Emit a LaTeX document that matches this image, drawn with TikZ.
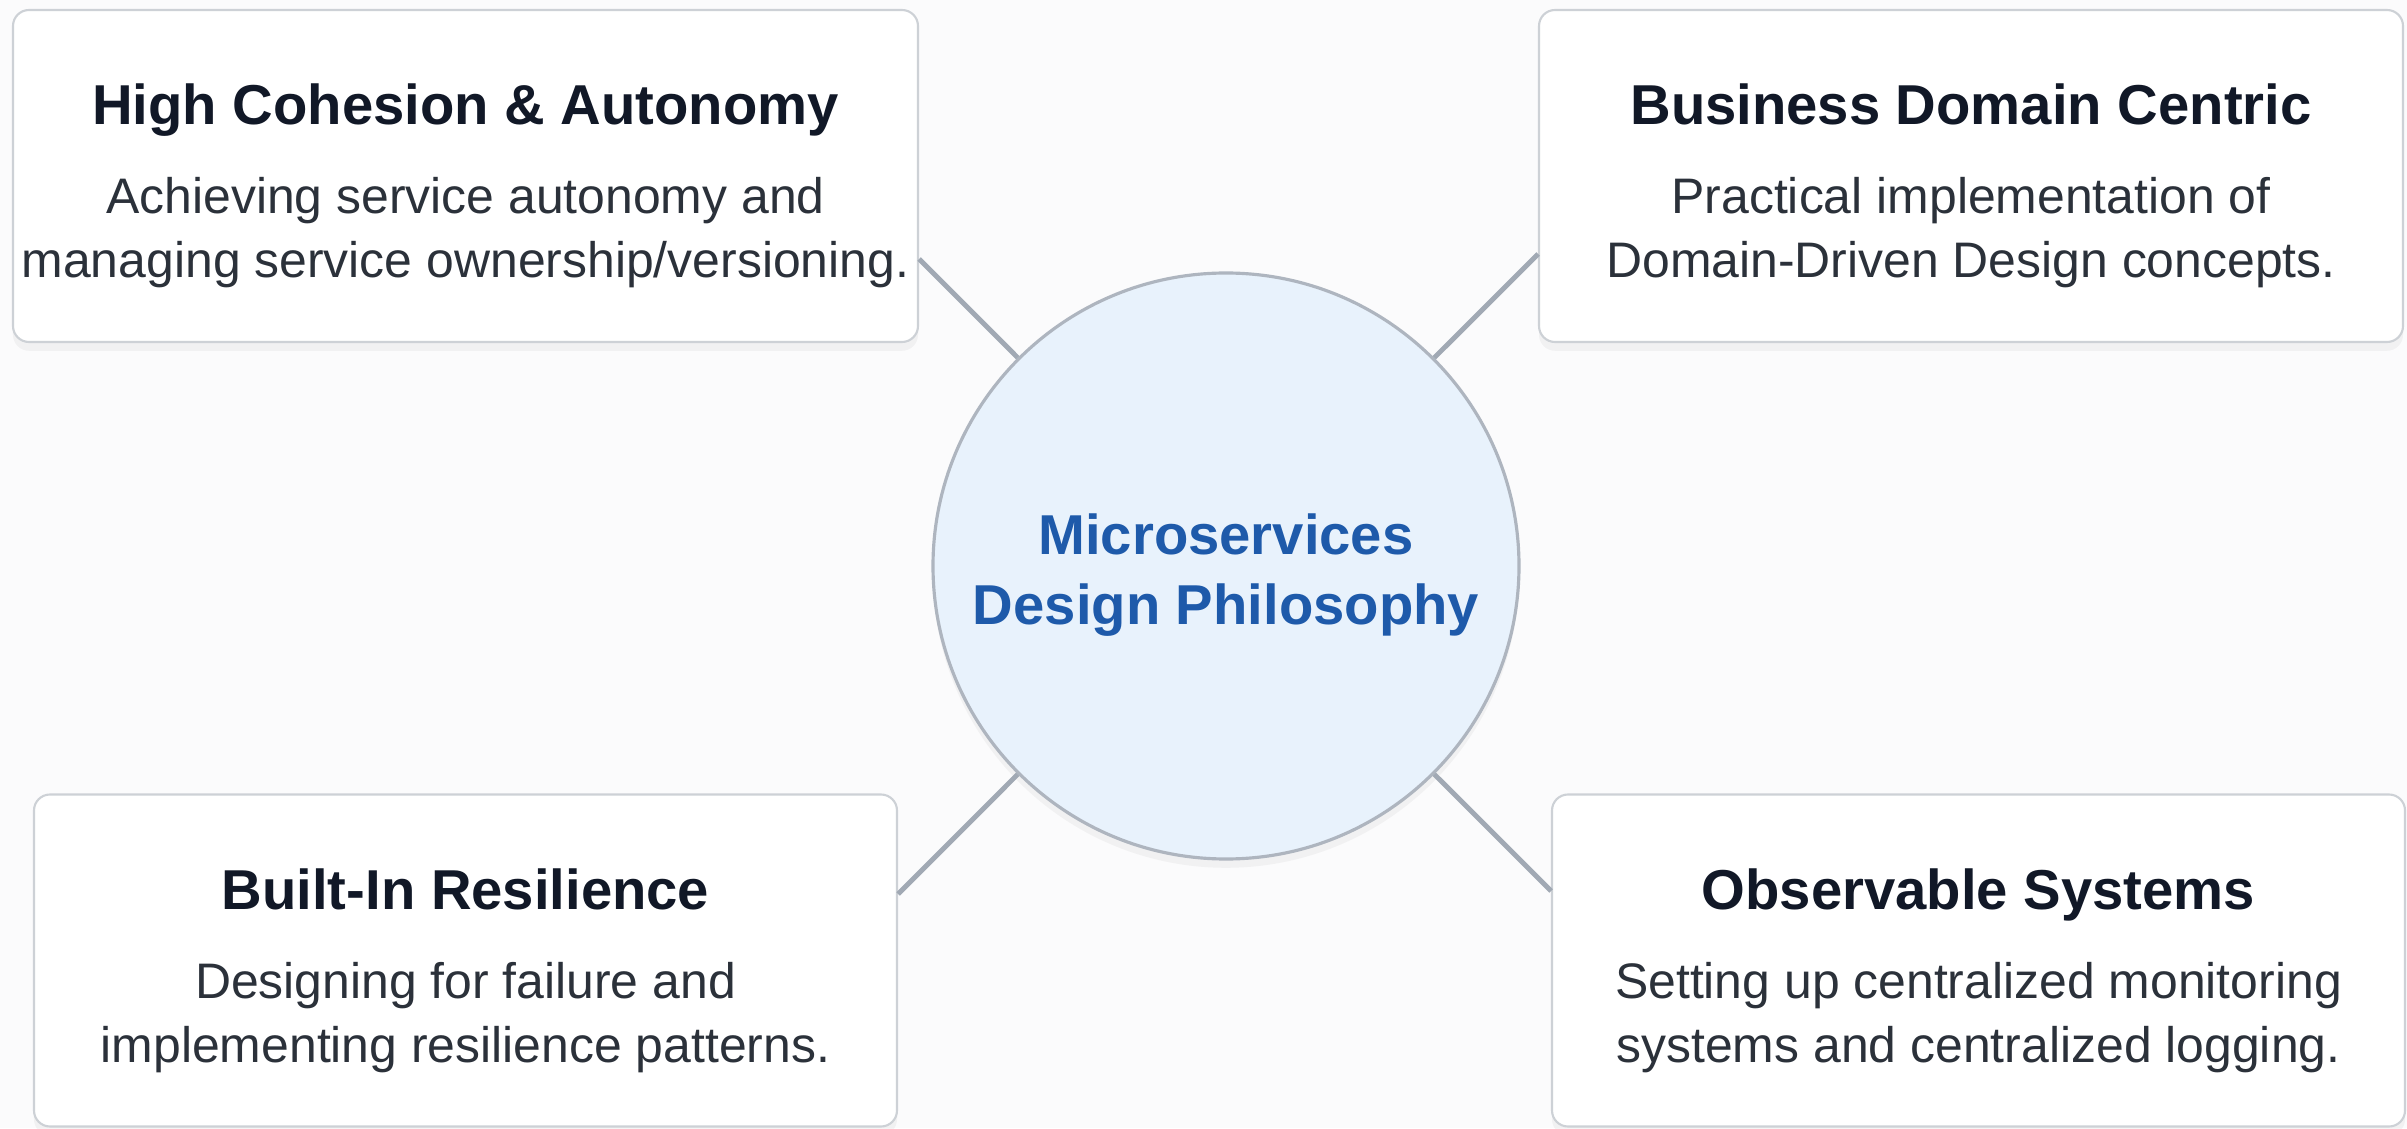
\documentclass[tikz,border=0pt]{standalone}
\usepackage{fontspec}
\setmainfont{Liberation Sans}
\usetikzlibrary{shadows}

\definecolor{pagebg}{HTML}{FBFBFC}
\definecolor{cardline}{HTML}{CDD1D6}
\definecolor{titleink}{HTML}{111827}
\definecolor{bodyink}{HTML}{2B313A}
\definecolor{hubfill}{HTML}{E8F2FC}
\definecolor{hubline}{HTML}{AEB5BF}
\definecolor{hubink}{HTML}{1E5AAA}
\definecolor{spokecol}{HTML}{A1A9B4}

\tikzset{
    card/.style={draw=cardline, fill=white, line width=0.6pt, rounded corners=1.6mm,
        minimum height=3.32cm, inner sep=0pt,
        drop shadow={shadow xshift=0pt, shadow yshift=-2.5pt, opacity=0.08}},
    cardtitle/.style={anchor=base, font=\fontsize{16}{19}\selectfont\bfseries, text=titleink},
    cardtext/.style={anchor=base, align=center, font=\fontsize{14.2}{18.2}\selectfont, text=bodyink},
    hub/.style={circle, draw=hubline, fill=hubfill, line width=0.9pt, minimum size=5.86cm,
        inner sep=0pt, drop shadow={shadow xshift=0pt, shadow yshift=-2.5pt, opacity=0.08}},
    hublabel/.style={align=center, font=\fontsize{16}{19.8}\selectfont\bfseries, text=hubink},
    spoke/.style={draw=spokecol, line width=1.4pt},
}

\begin{document}
\begin{tikzpicture}
    \useasboundingbox (0,0) rectangle (24.07,11.28);
    \fill[pagebg] (0,0) rectangle (24.07,11.28);

    % Central idea
    \node[hub] (hub) at (12.26, 5.62) {};
    \node[hublabel] (hub-label) at ([yshift=-0.09cm]hub.center) {Microservices\\Design Philosophy};

    % Principle cards
    \node[card, minimum width=9.05cm] (cohesion) at (4.655, 9.52) {};
    \node[cardtitle] (cohesion-title) at ([yshift=-1.16cm]cohesion.north) {High Cohesion \& Autonomy};
    \node[cardtext] (cohesion-text) at ([yshift=-2.69cm]cohesion.north) {Achieving service autonomy and\\managing service ownership/versioning.};

    \node[card, minimum width=8.64cm] (domain) at (19.71, 9.52) {};
    \node[cardtitle] (domain-title) at ([yshift=-1.16cm]domain.north) {Business Domain Centric};
    \node[cardtext] (domain-text) at ([yshift=-2.69cm]domain.north) {Practical implementation of\\Domain-Driven Design concepts.};

    \node[card, minimum width=8.63cm] (resilience) at (4.655, 1.675) {};
    \node[cardtitle] (resilience-title) at ([yshift=-1.16cm]resilience.north) {Built-In Resilience};
    \node[cardtext] (resilience-text) at ([yshift=-2.69cm]resilience.north) {Designing for failure and\\implementing resilience patterns.};

    \node[card, minimum width=8.53cm] (observe) at (19.785, 1.675) {};
    \node[cardtitle] (observe-title) at ([yshift=-1.16cm]observe.north) {Observable Systems};
    \node[cardtext] (observe-text) at ([yshift=-2.69cm]observe.north) {Setting up centralized monitoring\\systems and centralized logging.};

    % Spokes
    \draw[spoke] (hub.135) -- (intersection of hub.center--hub.135 and cohesion.north east--cohesion.south east);
    \draw[spoke] (hub.45) -- (intersection of hub.center--hub.45 and domain.north west--domain.south west);
    \draw[spoke] (hub.225) -- (intersection of hub.center--hub.225 and resilience.north east--resilience.south east);
    \draw[spoke] (hub.315) -- (intersection of hub.center--hub.315 and observe.north west--observe.south west);
\end{tikzpicture}
\end{document}
